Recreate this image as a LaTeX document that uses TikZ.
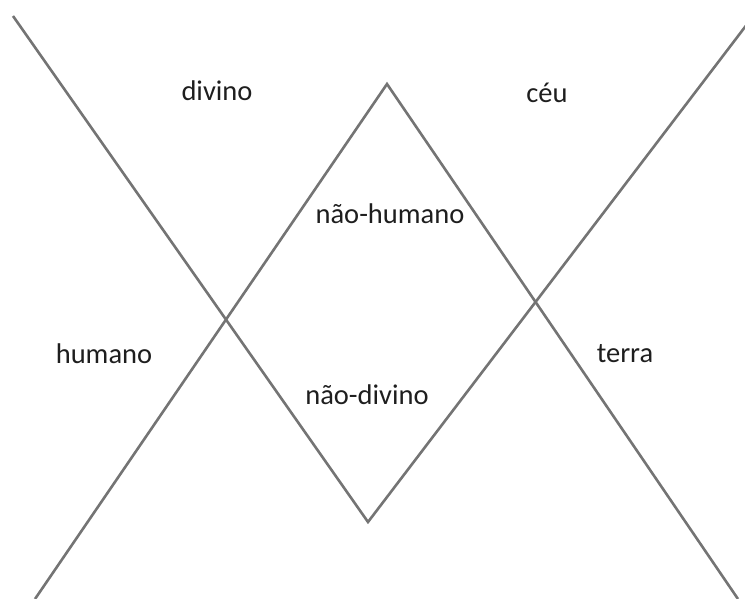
\documentclass[tikz,border=0pt]{standalone}
\usepackage{fontspec}
\setmainfont{Carlito}
\usetikzlibrary{positioning}
\definecolor{linegray}{HTML}{747474}
\definecolor{inkdark}{HTML}{1E1E1E}

\begin{document}
\begin{tikzpicture}[x=1pt, y=-1pt,
  axis/.style={linegray, line width=2.6pt, line join=miter},
  term/.style={text=inkdark, font=\fontsize{28.5}{30}\selectfont, anchor=base, inner sep=0pt}]

% Frame
\useasboundingbox (0,0) rectangle (745,599);

% Vertices of the two crossing V shapes
\coordinate (tl) at (13,16);
\coordinate (bv) at (368,522);
\coordinate (tr) at (748,23);
\coordinate (bl) at (35,599);
\coordinate (ap) at (387,84);
\coordinate (br) at (738,599);

% Crossing lines
\draw[axis] (tl) -- (bv) -- (tr);
\draw[axis] (bl) -- (ap) -- (br);

% Terms
\node[term] (divino) at (217,101) {divino};
\node[term] (ceu) at (547,103) {céu};
\node[term] (naohumano) at (390,223) {não-humano};
\node[term] (humano) at (104,363) {humano};
\node[term] (terra) at (625,362) {terra};
\node[term] (naodivino) at (367,404) {não-divino};

\end{tikzpicture}
\end{document}
